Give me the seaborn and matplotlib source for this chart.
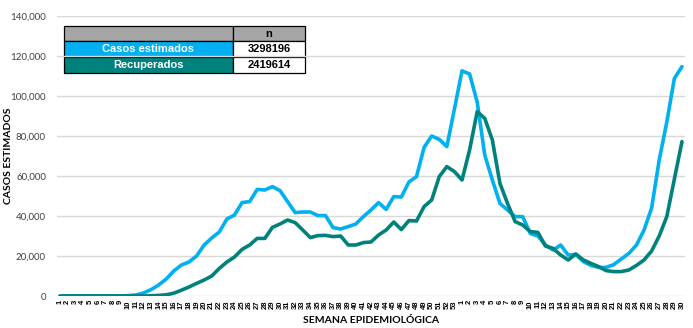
import matplotlib
matplotlib.use("Agg")
import matplotlib.pyplot as plt
import seaborn as sns
import pandas as pd
from matplotlib.ticker import FuncFormatter

# ---- data ----
week_labels = [str(w) for w in range(1, 54)] + [str(w) for w in range(1, 31)]

casos_estimados = [
    0, 0, 0, 0, 0, 0, 0, 0, 0, 200,
    500, 1500, 3200, 5500, 8500, 12500, 15500, 17000, 20000, 25500,
    29000, 32000, 38500, 40500, 46700, 47200, 53300, 53000, 54700, 52700,
    47200, 41700, 42000, 42000, 40200, 40200, 34200, 33500, 34700, 36000,
    39700, 43000, 46700, 43300, 49700, 49500, 57000, 59700, 74300, 80000,
    78300, 74700, 93500, 112600, 111000, 97000, 70500, 58000, 46300, 43000,
    39700, 39700, 31300, 30000, 25500, 23000, 25500, 20500, 20800, 17200,
    15300, 14300, 14300, 15700, 18500, 21300, 25500, 33000, 44000, 68000,
    87000, 108800, 114700,
]

recuperados = [
    0, 0, 0, 0, 0, 0, 0, 0, 0, 0,
    0, 0, 100, 300, 600, 1400, 2900, 4500, 6300, 8000,
    10000, 13800, 17000, 19500, 23300, 25500, 28800, 28800, 34300, 36000,
    38000, 36700, 33000, 29200, 30200, 30300, 29700, 30000, 25500, 25500,
    26700, 27000, 30500, 33000, 37000, 33200, 37700, 37500, 44700, 48000,
    59700, 64700, 62200, 58000, 73000, 92200, 88800, 78000, 56300, 46300,
    37200, 35500, 32200, 31800, 25000, 23800, 20500, 18000, 21000, 18000,
    16300, 14700, 12700, 12200, 12200, 13000, 15300, 18000, 22500, 30000,
    39700, 58500, 77200,
]

series_names = ["Casos estimados", "Recuperados"]
series_totals = ["3298196", "2419614"]
colors = ["#00b0f0", "#00827c"]

# ---- build long dataframe ----
n = len(week_labels)
df = pd.DataFrame({
    "idx": list(range(n)) * 2,
    "valor": casos_estimados + recuperados,
    "serie": [series_names[0]] * n + [series_names[1]] * n,
})

sns.set_theme(style="white")
plt.rcParams["font.family"] = ["Lato", "DejaVu Sans"]

fig = plt.figure(figsize=(6.93, 3.28), dpi=100)
ax = fig.add_axes([57 / 693, 1 - 296 / 328, 628 / 693, 280 / 328])

sns.lineplot(data=df, x="idx", y="valor", hue="serie", palette=colors,
             hue_order=series_names, linewidth=2.6, legend=False, ax=ax,
             sort=False)

ax.set_xlim(-0.4, n - 1 + 0.4)
ax.set_ylim(0, 140000)
ax.set_yticks(range(0, 140001, 20000))
ax.yaxis.set_major_formatter(FuncFormatter(lambda v, p: f"{int(v):,}"))
ax.set_xticks(range(n))
ax.set_xticklabels(week_labels, rotation=90, fontsize=5.5, fontweight="bold",
                   family=["Liberation Sans", "DejaVu Sans"])
ax.tick_params(axis="y", labelsize=7, colors="#404040", length=0, pad=8)
ax.tick_params(axis="x", length=0, pad=3, colors="#000000")
ax.grid(axis="y", color="#d9d9d9", linewidth=1)
ax.set_axisbelow(True)
for s in ax.spines.values():
    s.set_visible(False)

ax.set_xlabel("SEMANA EPIDEMIOLÓGICA", fontsize=7.5, fontweight="bold",
              color="#000000", labelpad=5)
ax.set_ylabel("")
fig.text(9 / 693, 1 - 156 / 328, "CASOS ESTIMADOS", rotation=90,
         ha="center", va="center", fontsize=7.5, fontweight="bold",
         color="#000000")

# ---- summary table ----
cell_text = [["", "n"],
             [series_names[0], series_totals[0]],
             [series_names[1], series_totals[1]]]
cell_colors = [["#a6a6a6", "#a6a6a6"],
               [colors[0], "#ffffff"],
               [colors[1], "#ffffff"]]
tbl = ax.table(cellText=cell_text, cellColours=cell_colors,
               colWidths=[0.70, 0.30], cellLoc="center",
               bbox=[7 / 628, (296 - 72.7) / 280, 241 / 628, 47 / 280])
tbl.auto_set_font_size(False)
for (r, c), cell in tbl.get_celld().items():
    cell.set_edgecolor("#000000")
    cell.set_linewidth(0.9)
    txt = cell.get_text()
    txt.set_fontsize(8)
    txt.set_fontweight("bold")
    txt.set_family(["Liberation Sans", "DejaVu Sans"])
    if c == 0 and r > 0:
        txt.set_color("white")
    else:
        txt.set_color("black")

fig.savefig("out.png", dpi=100)
